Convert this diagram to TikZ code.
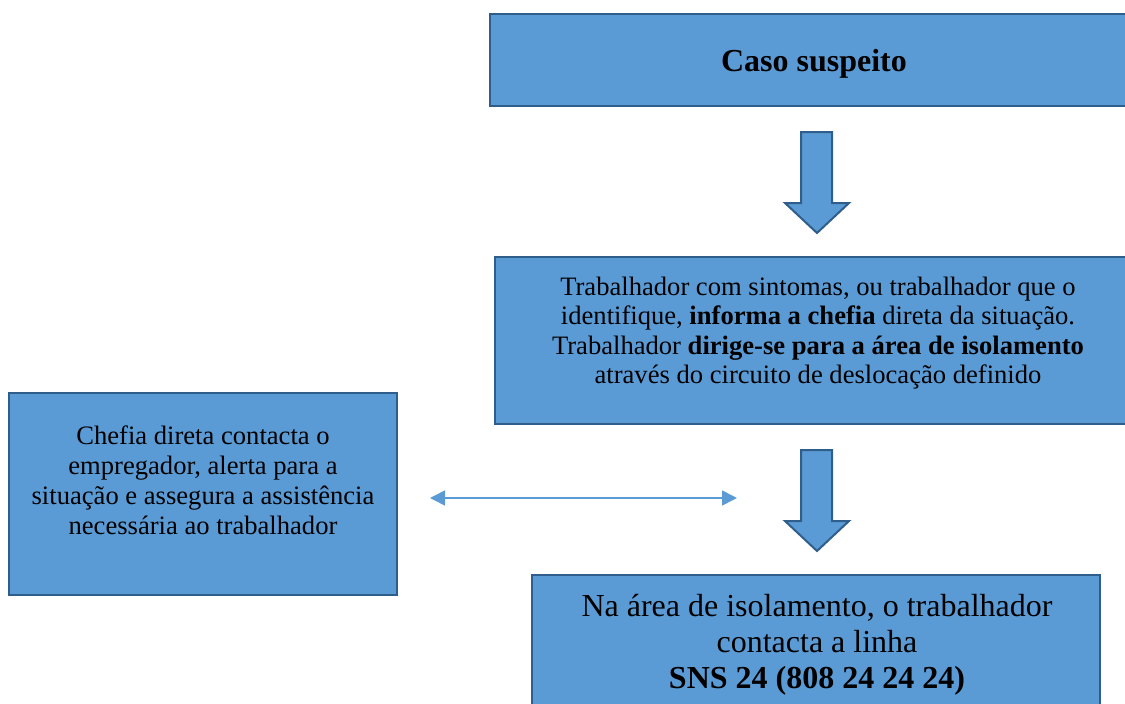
\documentclass[tikz,border=0pt]{standalone}
\usepackage{fontspec}
\setmainfont{Liberation Serif}
\usetikzlibrary{arrows.meta,calc}
\definecolor{boxfill}{HTML}{5B9BD5}
\definecolor{boxline}{HTML}{2F5E8C}
\tikzset{
  box/.style={draw=boxline, fill=boxfill, line width=2.8pt, rectangle, inner sep=0pt},
  blockarrow/.style={draw=boxline, fill=boxfill, line width=2pt, line join=miter},
  txt/.style={align=center, inner sep=0pt, text=black},
  link/.style={draw=boxfill, line width=1.6pt, {Triangle[length=15pt,width=15pt]}-{Triangle[length=15pt,width=15pt]}}
}
\begin{document}
\begin{tikzpicture}[x=1pt,y=-1pt]
\useasboundingbox (0,0) rectangle (1125,704);
\clip (0,0) rectangle (1125,704);
% boxes
\node[box, minimum width=650pt, minimum height=92pt] (title) at (815,60) {};
\node[box, minimum width=645pt, minimum height=167pt] (mid) at (817.5,340.5) {};
\node[box, minimum width=388pt, minimum height=202pt] (left) at (203,494) {};
\node[box, minimum width=568pt, minimum height=160pt] (bot) at (816,655) {};
% texts
\node[txt, font=\fontsize{32}{36}\selectfont\bfseries] (titletext) at (814,64) {Caso suspeito};
\node[txt, font=\fontsize{26.6}{29.5}\selectfont] (midtext) at (818,333) {Trabalhador com sintomas, ou trabalhador que o\\identifique, \textbf{informa a chefia} direta da situação.\\Trabalhador \textbf{dirige-se para a área de isolamento}\\através do circuito de deslocação definido};
\node[txt, font=\fontsize{26.6}{30}\selectfont] (lefttext) at (203,480) {Chefia direta contacta o\\empregador, alerta para a\\situação e assegura a assistência\\necessária ao trabalhador};
\node[txt, font=\fontsize{32}{36}\selectfont] (bottext) at (817,645) {Na área de isolamento, o trabalhador\\contacta a linha\\\textbf{SNS 24 (808 24 24 24)}};
% block arrows
\coordinate (a1) at (817,132);
\coordinate (a2) at (817,450);
\foreach \c in {a1,a2}{
  \draw[blockarrow] ($(\c)+(-16,0)$) -- ++(31,0) -- ++(0,71) -- ++(17,0) -- ($(\c)+(0,101)$) -- ($(\c)+(-32,71)$) -- ++(16,0) -- cycle;
}
% double arrow
\coordinate (la) at (430,498);
\coordinate (ra) at (737,498);
\draw[link] (la) -- (ra);
\end{tikzpicture}
\end{document}
